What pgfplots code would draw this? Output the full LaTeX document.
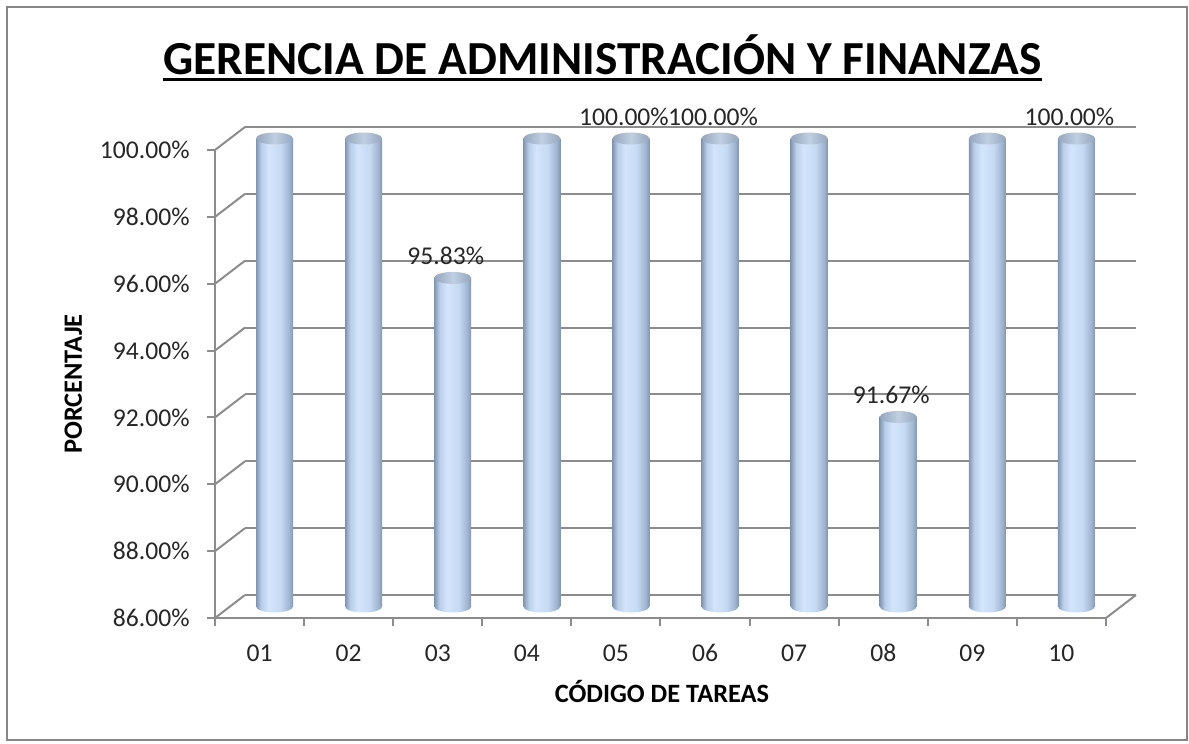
\documentclass[border=0pt]{standalone}
\usepackage{fontspec}
\setmainfont{Carlito}
\usepackage{pgfplots}
\pgfplotsset{compat=1.18}
\definecolor{gridc}{RGB}{140,140,140}
\definecolor{framec}{RGB}{134,134,134}
\definecolor{barEdge}{RGB}{130,150,178}
\definecolor{barMidA}{RGB}{186,206,233}
\definecolor{barLight}{RGB}{210,229,251}
\definecolor{barMidB}{RGB}{198,218,244}
\definecolor{barMidC}{RGB}{160,180,208}
\definecolor{topEdge}{RGB}{148,166,190}
\definecolor{topLight}{RGB}{192,207,226}
\definecolor{txt}{RGB}{38,38,38}
\pgfdeclarehorizontalshading{cylshade}{100bp}{color(0bp)=(barEdge); color(25bp)=(barEdge); color(32bp)=(barMidA); color(42bp)=(barLight); color(58bp)=(barMidB); color(70bp)=(barMidC); color(75bp)=(barEdge); color(100bp)=(barEdge)}
\pgfdeclarehorizontalshading{topshade}{100bp}{color(0bp)=(topEdge); color(25bp)=(topEdge); color(50bp)=(topLight); color(75bp)=(topEdge); color(100bp)=(topEdge)}
\pgfdeclareplotmark{cylbottom}{\pgfpathellipse{\pgfpointorigin}{\pgfqpoint{9.25pt}{0pt}}{\pgfqpoint{0pt}{3pt}}\pgfshadepath{cylshade}{0}\pgfusepath{discard}}
\pgfdeclareplotmark{cyltop}{\pgfpathellipse{\pgfpointorigin}{\pgfqpoint{9.25pt}{0pt}}{\pgfqpoint{0pt}{3pt}}\pgfshadepath{topshade}{0}\pgfusepath{discard}}
\begin{document}
\begin{tikzpicture}
\pgfplotsset{
  baseax/.style={anchor=south west, scale only axis, width=445.5pt, height=234pt,
    xmin=-0.5, xmax=9.5, ymin=86, ymax=100},
  midax/.style={baseax, at={(7.5pt,5.75pt)}, hide axis},
  cylbar/.style={ybar, bar shift=0pt, bar width=18.5pt, draw=none, /tikz/shade, /tikz/shading=cylshade, /tikz/shading angle=0},
}
\path (-107.5pt,-63pt) rectangle (487pt,309pt);
\draw[framec, line width=1pt] (-104pt,-61pt) rectangle (486pt,305.5pt);

% back wall gridlines
\begin{axis}[baseax, at={(15pt,11.5pt)}, axis line style={draw=none},
  xtick=\empty, ytick={86,88,90,92,94,96,98,100}, yticklabel style={opacity=0},
  major tick length=0pt, ymajorgrids, grid style={gridc, line width=1pt}]
\addplot[draw=none] coordinates {(0,86)};
\end{axis}

% front axis
\begin{axis}[baseax, at={(0pt,0pt)}, clip=false,
  axis x line*=bottom, axis y line*=left,
  axis line style={gridc, line width=1pt},
  tick align=outside, major tick length=4pt,
  tick style={gridc, line width=1pt},
  ytick={86,88,90,92,94,96,98,100},
  yticklabels={86.00\%,88.00\%,90.00\%,92.00\%,94.00\%,96.00\%,98.00\%,100.00\%},
  xtick={-0.5,0.5,1.5,2.5,3.5,4.5,5.5,6.5,7.5,8.5,9.5},
  x tick label as interval,
  xticklabels={01,02,03,04,05,06,07,08,09,10},
  every tick label/.append style={font=\fontsize{12.8pt}{15pt}\selectfont, text=txt},
  yticklabel style={inner sep=0pt, anchor=east, xshift=-8.5pt},
  xticklabel style={inner sep=0pt, anchor=north, yshift=-9pt},
]
\pgfplotsinvokeforeach{86,88,90,92,94,96,98,100}{
  \draw[gridc, line width=1pt] (axis cs:-0.5,#1) -- ++(15pt,11.5pt);
}
\draw[gridc, line width=1pt] (axis cs:9.5,86) -- ++(15pt,11.5pt);
\end{axis}

% cylinder bottoms
\begin{axis}[midax, clip=false]
\addplot[only marks, mark=cylbottom] coordinates {
(0,86) (1,86) (2,86) (3,86) (4,86) (5,86) (6,86) (7,86) (8,86) (9,86)};
\end{axis}

% cylinder bodies (one plot per bar so each gets its own shading)
\begin{axis}[midax]
\addplot[cylbar] coordinates {(0,100)};
\addplot[cylbar] coordinates {(1,100)};
\addplot[cylbar] coordinates {(2,95.83)};
\addplot[cylbar] coordinates {(3,100)};
\addplot[cylbar] coordinates {(4,100)};
\addplot[cylbar] coordinates {(5,100)};
\addplot[cylbar] coordinates {(6,100)};
\addplot[cylbar] coordinates {(7,91.67)};
\addplot[cylbar] coordinates {(8,100)};
\addplot[cylbar] coordinates {(9,100)};
\end{axis}

% cylinder tops and data labels
\begin{axis}[midax, clip=false]
\addplot[only marks, mark=cyltop]
coordinates {(0,100) (1,100) (2,95.83) (3,100) (4,100) (5,100) (6,100) (7,91.67) (8,100) (9,100)};
\addplot[only marks, mark=none, nodes near coords, point meta=explicit symbolic,
  nodes near coords style={font=\fontsize{12.8pt}{15pt}\selectfont, text=txt, anchor=center, inner sep=0pt, yshift=11pt, xshift=-3.5pt}]
coordinates {(2,95.83) [95.83\%] (4,100) [100.00\%] (5,100) [100.00\%] (7,91.67) [91.67\%] (9,100) [100.00\%]};
\end{axis}

\node[font=\fontsize{23.7pt}{28pt}\selectfont\bfseries, anchor=base, inner sep=0pt] (t) at (193.75pt,271.5pt) {GERENCIA DE ADMINISTRACIÓN Y FINANZAS};
\draw[line width=1.5pt] ([yshift=-2.5pt]t.base west) -- ([yshift=-2.5pt]t.base east);
\node[rotate=90, anchor=base, inner sep=0pt, font=\fontsize{13.2pt}{16pt}\selectfont\bfseries] at (-66.5pt,117pt) {PORCENTAJE};
\node[anchor=base, inner sep=0pt, font=\fontsize{13.2pt}{16pt}\selectfont\bfseries] at (223.5pt,-42pt) {CÓDIGO DE TAREAS};
\end{tikzpicture}
\end{document}
